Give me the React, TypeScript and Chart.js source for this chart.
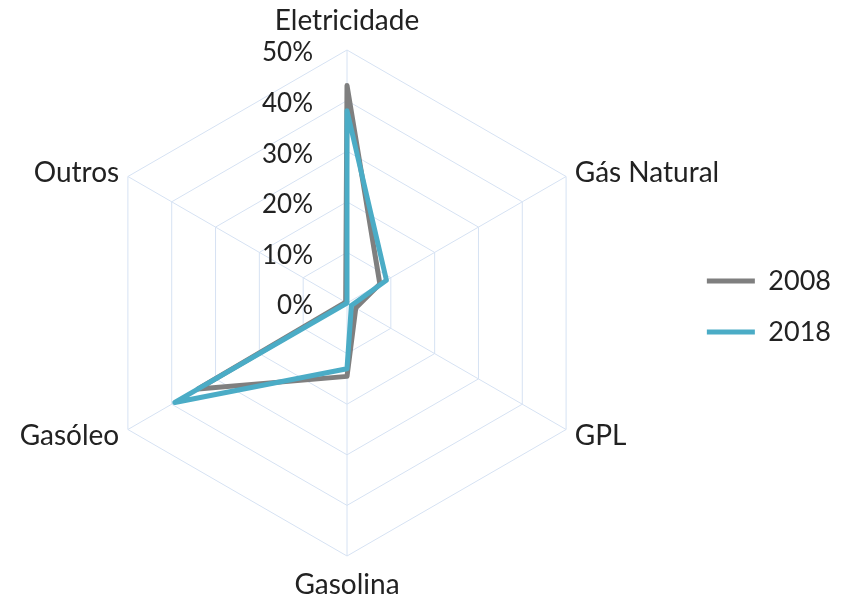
import React, { useEffect, useRef } from "react";
import { Chart, registerables } from "chart.js";

Chart.register(...registerables);

const categories = ["Eletricidade", "Gás Natural", "GPL", "Gasolina", "Gasóleo", "Outros"];
const values2008 = [43, 7.5, 2, 14.5, 34, 0.3];
const values2018 = [38, 9, 1, 13, 39.3, 0];
const tickValues = [0, 10, 20, 30, 40, 50];
const seriesLabels = ["2008", "2018"];

const FONT = "Lato, 'Liberation Sans', sans-serif";
const TEXT = "#222222";

const labelPlugin = {
  id: "customLabels",
  afterDraw(chart: any) {
    const scale = chart.scales.r;
    const ctx = chart.ctx;
    ctx.save();
    ctx.fillStyle = TEXT;
    // tick labels to the left of the vertical axis
    ctx.font = `26px ${FONT}`;
    ctx.textAlign = "right";
    ctx.textBaseline = "middle";
    for (const v of tickValues) {
      const d = scale.getDistanceFromCenterForValue(v);
      ctx.fillText(`${v}%`, scale.xCenter - 34, scale.yCenter - d + 3);
    }
    // point labels
    ctx.font = `28px ${FONT}`;
    categories.forEach((name, i) => {
      const p = scale.getPointPosition(i, scale.drawingArea + 10);
      const dx = p.x - scale.xCenter;
      let x = p.x;
      let y = p.y + 1;
      if (Math.abs(dx) < 1) {
        ctx.textAlign = "center";
        y += p.y < scale.yCenter ? -20 : 18;
      } else {
        ctx.textAlign = dx > 0 ? "left" : "right";
      }
      ctx.fillText(name, x, y);
    });
    ctx.restore();
  },
};

export default function App() {
  const ref = useRef<HTMLCanvasElement>(null);
  useEffect(() => {
    const chart = new Chart(ref.current!, {
      type: "radar",
      data: {
        labels: categories,
        datasets: [
          {
            label: seriesLabels[0],
            data: values2008,
            borderColor: "#7f7f7f",
            backgroundColor: "#7f7f7f",
            borderWidth: 5,
            pointRadius: 0,
            fill: false,
            borderCapStyle: "round",
            borderJoinStyle: "round",
            order: 1,
          },
          {
            label: seriesLabels[1],
            data: values2018,
            borderColor: "#4bacc6",
            backgroundColor: "#4bacc6",
            borderWidth: 5,
            pointRadius: 0,
            fill: false,
            borderCapStyle: "round",
            borderJoinStyle: "round",
            order: 0,
          },
        ],
      },
      options: {
        animation: false,
        responsive: true,
        maintainAspectRatio: false,
        layout: { padding: { top: 50, bottom: 44, left: 13, right: 3 } },
        plugins: {
          tooltip: { enabled: false },
          legend: {
            position: "right",
            title: { display: true, text: "", font: { size: 6 }, padding: 0 },
            labels: {
              usePointStyle: true,
              pointStyle: "line",
              pointStyleWidth: 48,
              padding: 24,
              color: TEXT,
              font: { size: 27, family: FONT },
              sort: (a: any, b: any) => a.datasetIndex - b.datasetIndex,
            },
          },
        },
        scales: {
          r: {
            min: 0,
            max: 50,
            ticks: { stepSize: 10, display: false },
            grid: { color: "#d6e2f3", lineWidth: 1 },
            angleLines: { color: "#d6e2f3", lineWidth: 1 },
            pointLabels: { display: false },
          },
        },
      },
      plugins: [labelPlugin],
    });
    return () => chart.destroy();
  }, []);
  return (
    <div style={{ position: "fixed", left: 0, top: 0, width: 844, height: 600, background: "#fff" }}>
      <canvas ref={ref} />
    </div>
  );
}
